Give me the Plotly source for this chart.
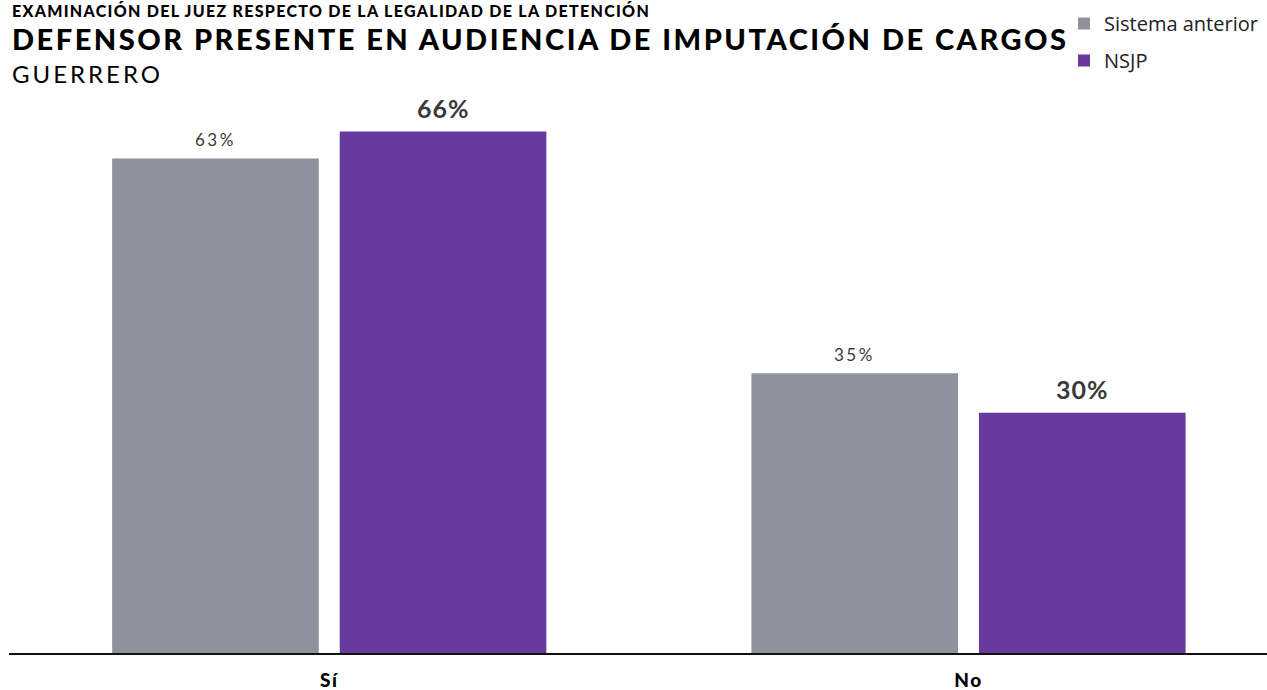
import plotly.graph_objects as go

categories = ["Sí", "No"]
series_names = ["Sistema anterior", "NSJP"]
sistema_anterior = [62.6, 35.4]
nsjp = [66.0, 30.4]
colors = ["#8e929c", "#68399e"]


def spaced(text, px):
    return f'<span style="letter-spacing:{px}px">{text}</span>'


fig = go.Figure()
for name, vals, col in zip(series_names, [sistema_anterior, nsjp], colors):
    fig.add_trace(go.Bar(
        x=categories, y=vals, name=name, marker=dict(color=col, line=dict(width=0)),
        legendgroup=name, hoverinfo="skip"))

# value labels
offsets = [-114, 114]
label_styles = [
    (dict(family="Lato", size=17, color="#3a3a3a", weight="normal"), 2.5, 6),
    (dict(family="Lato", size=25, color="#3a3a3a", weight="bold"), 1.0, 7),
]
for vals, off, (st, sp, ys) in zip([sistema_anterior, nsjp], offsets, label_styles):
    for c, v in zip(categories, vals):
        fig.add_annotation(x=c, y=v, xref="x", yref="y", text=spaced(f"{v:.0f}%", sp),
                           showarrow=False, xshift=off, yanchor="bottom", yshift=ys,
                           font=st)

fig.add_annotation(xref="paper", yref="paper", x=0, y=1, xanchor="left", yanchor="top",
                   xshift=1, yshift=101, showarrow=False,
                   text=spaced("EXAMINACIÓN DEL JUEZ RESPECTO DE LA LEGALIDAD DE LA DETENCIÓN", 1.3),
                   font=dict(family="Lato", size=16, color="#000", weight=900))
fig.add_annotation(xref="paper", yref="paper", x=0, y=1, xanchor="left", yanchor="top",
                   xshift=1, yshift=81, showarrow=False,
                   text=spaced("DEFENSOR PRESENTE EN AUDIENCIA DE IMPUTACIÓN DE CARGOS", 2.5),
                   font=dict(family="Lato", size=29, color="#000", weight=900))
fig.add_annotation(xref="paper", yref="paper", x=0, y=1, xanchor="left", yanchor="top",
                   xshift=1, yshift=43, showarrow=False,
                   text=spaced("GUERRERO", 3.0),
                   font=dict(family="Lato", size=24, color="#000"))

fig.update_layout(
    width=1267, height=690,
    margin=dict(l=9, r=0, t=100, b=37, autoexpand=False),
    paper_bgcolor="white", plot_bgcolor="white",
    barmode="group", bargap=0.288, bargroupgap=0.092,
    showlegend=True,
    legend=dict(x=1064 / 1267, xref="container", y=1 - 4 / 690, yref="container",
                xanchor="left", yanchor="top",
                font=dict(family="Open Sans", size=20, color="#222"),
                tracegroupgap=8, itemwidth=30, bgcolor="rgba(0,0,0,0)"),
    xaxis=dict(range=[-0.501, 1.467], showline=True, linecolor="#111", linewidth=1.5,
               ticks="outside", ticklen=9, tickcolor="rgba(0,0,0,0)",
               tickvals=categories, ticktext=[spaced(c, 1.5) for c in categories],
               tickfont=dict(family="Lato", size=19, color="#000", weight=900),
               showgrid=False, zeroline=False, fixedrange=True),
    yaxis=dict(range=[0, 70.0], visible=False, showgrid=False, zeroline=False),
)
fig.write_html("out.html", config={"displayModeBar": False},
               post_script="document.body.style.margin='0';document.body.style.overflow='hidden';")
